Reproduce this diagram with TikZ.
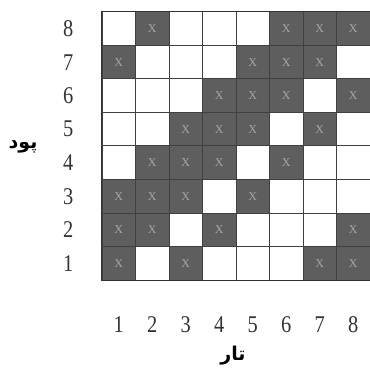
\documentclass[tikz,border=0pt]{standalone}
\usepackage{fontspec}
\setmainfont{Liberation Serif}
\newfontfamily\farsifont[Script=Arabic]{DejaVu Sans}
\TeXXeTstate=1
\usetikzlibrary{positioning}

\begin{document}
\begin{tikzpicture}[x=1pt,y=-1pt,
  cell/.style={draw=black!75,line width=1pt,fill=white,
               minimum size=33.5pt,inner sep=0pt},
  dark/.style={cell,fill=black!63,text=black!35,
               font=\fontsize{12}{12}\selectfont},
  num/.style={inner sep=0pt,text=black!80,xscale=0.85,
              font=\fontsize{24}{24}\selectfont},
  fa/.style={inner sep=0pt,font=\farsifont\bfseries\fontsize{19}{19}\selectfont}
]
\useasboundingbox (0,0) rectangle (370,369);

% the 8x8 weave grid
\foreach \r in {1,...,8}
  \foreach \c in {1,...,8}
    \node[cell] (c\r\c) at ({102+33.5*(\c-0.5)},{12+33.5*(8.5-\r)}) {};

% raised cells
\foreach \r/\c in {8/2,8/6,8/7,8/8,
                   7/1,7/5,7/6,7/7,
                   6/4,6/5,6/6,6/8,
                   5/3,5/4,5/5,5/7,
                   4/2,4/3,4/4,4/6,
                   3/1,3/2,3/3,3/5,
                   2/1,2/2,2/4,2/8,
                   1/1,1/3,1/7,1/8}
  \node[dark] (d\r\c) at (c\r\c) {X};

\draw[line width=1.4pt,black!80] (c81.north west) rectangle (c18.south east);

% row and column numbers
\foreach \r in {1,...,8}
  \node[num,left=28pt of c\r1] (r\r) {\r};
\foreach \c in {1,...,8}
  \node[num,below=36pt of c1\c] (k\c) {\c};

\node[fa] (pood) at (23,147) {\beginR پود\endR};
\node[fa] (tar) at (233,356) {\beginR تار\endR};
\end{tikzpicture}
\end{document}
